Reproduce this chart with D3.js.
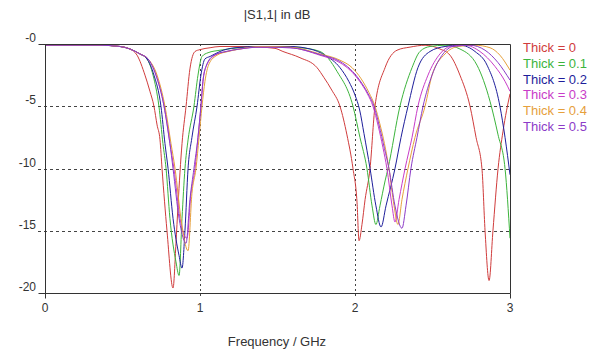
<!DOCTYPE html>
<html>
<head>
<meta charset="utf-8">
<script src="https://cdn.jsdelivr.net/npm/d3@7"></script>
<style>
  body { margin: 0; background: #fff; }
  svg text { font-family: "Liberation Sans", Arial, sans-serif; }
</style>
</head>
<body>
<svg id="chart" width="600" height="355"></svg>
<script>
// |S1,1| in dB vs frequency (GHz), one curve per thickness
const labels = ["Thick = 0", "Thick = 0.1", "Thick = 0.2", "Thick = 0.3", "Thick = 0.4", "Thick = 0.5"];
const colors = ["#d03c3c", "#3cb43c", "#1e1e9b", "#c83cc8", "#e6a03c", "#8c3cc8"];
const xTicks = [0, 1, 2, 3];
const yTicks = [0, -5, -10, -15, -20];

const thick0 = [[0,-0.1],[0.355,-0.1],[0.484,-0.2],[0.548,-0.4],[0.594,-0.9],[0.645,-2.5],[0.677,-3.8],[0.703,-5],[0.723,-6.5],[0.742,-7.7],[0.755,-10],[0.787,-15],[0.826,-19.6],[0.845,-16],[0.858,-13],[0.884,-8],[0.910,-5],[0.935,-2],[0.968,-0.6],[1.0,-0.45],[1.065,-0.3],[1.129,-0.2],[1.258,-0.2],[1.387,-0.25],[1.484,-0.35],[1.535,-0.6],[1.645,-1.1],[1.755,-1.9],[1.80,-2.7],[1.85,-3.7],[1.903,-5],[1.948,-7.3],[1.987,-10],[2.013,-12.7],[2.026,-15.8],[2.045,-14.5],[2.065,-12.5],[2.097,-10],[2.129,-5],[2.194,-1.9],[2.271,-0.5],[2.355,-0.25],[2.452,-0.1],[2.548,-0.4],[2.613,-0.9],[2.677,-2.5],[2.742,-5],[2.781,-7.5],[2.819,-10],[2.839,-15],[2.865,-19],[2.890,-15],[2.923,-10],[2.955,-7],[3.0,-4]];
const thick1 = [[0,-0.1],[0.355,-0.1],[0.484,-0.2],[0.548,-0.4],[0.613,-0.8],[0.658,-1.2],[0.697,-2.5],[0.735,-5],[0.761,-8],[0.781,-10],[0.806,-14],[0.845,-17.5],[0.865,-18.6],[0.884,-14],[0.903,-10],[0.923,-7.7],[0.961,-5],[0.987,-2.5],[1.013,-1],[1.052,-0.7],[1.129,-0.5],[1.258,-0.3],[1.452,-0.2],[1.645,-0.3],[1.774,-0.6],[1.884,-2.2],[1.987,-5],[2.032,-7.5],[2.077,-10],[2.110,-13],[2.135,-14.5],[2.161,-13],[2.194,-11],[2.213,-10],[2.290,-5],[2.368,-1.9],[2.419,-0.6],[2.484,-0.2],[2.581,-0.1],[2.677,-0.4],[2.787,-1.7],[2.871,-4.6],[2.923,-7.3],[2.968,-10],[3.0,-15.6]];
const thick2 = [[0,-0.1],[0.355,-0.1],[0.484,-0.2],[0.548,-0.4],[0.613,-0.8],[0.658,-1.2],[0.703,-2.5],[0.748,-5],[0.774,-8],[0.794,-10],[0.826,-14],[0.865,-17],[0.884,-18],[0.903,-15],[0.923,-10],[0.948,-7.5],[0.981,-5],[1.006,-2.5],[1.032,-1.2],[1.065,-1.0],[1.129,-0.6],[1.226,-0.3],[1.387,-0.2],[1.581,-0.2],[1.710,-0.4],[1.806,-0.9],[1.903,-1.9],[1.96,-3.0],[2.0,-4.1],[2.03,-5.3],[2.058,-7.2],[2.097,-10],[2.135,-13],[2.168,-14.7],[2.200,-13],[2.258,-10],[2.297,-7.5],[2.342,-5],[2.406,-1.9],[2.484,-0.6],[2.581,-0.2],[2.677,-0.1],[2.774,-0.6],[2.852,-1.7],[2.935,-5],[2.968,-7.5],[3.0,-10.5]];
const thick3 = [[0,-0.1],[0.355,-0.1],[0.484,-0.2],[0.548,-0.4],[0.613,-0.8],[0.665,-1.2],[0.716,-2.5],[0.768,-5],[0.806,-8],[0.832,-10],[0.871,-14],[0.916,-15.6],[0.942,-12],[0.968,-10],[0.987,-7.5],[1.006,-5],[1.019,-3],[1.039,-1.8],[1.097,-0.9],[1.174,-0.6],[1.258,-0.4],[1.387,-0.25],[1.581,-0.3],[1.774,-0.9],[1.903,-1.5],[1.968,-2.1],[2.03,-3.0],[2.08,-4.0],[2.116,-5],[2.15,-6.6],[2.18,-8.3],[2.206,-10],[2.239,-13],[2.258,-14.3],[2.284,-12.5],[2.323,-10],[2.368,-7.5],[2.406,-5],[2.471,-2.5],[2.548,-0.8],[2.613,-0.2],[2.710,-0.1],[2.806,-0.6],[2.903,-1.8],[2.968,-3],[3.0,-3.8]];
const thick4 = [[0,-0.1],[0.355,-0.1],[0.484,-0.2],[0.548,-0.4],[0.613,-0.8],[0.665,-1.2],[0.723,-2.5],[0.774,-5],[0.813,-8],[0.839,-10],[0.877,-14],[0.923,-16.6],[0.948,-12],[0.974,-10],[0.994,-7.5],[1.013,-5],[1.032,-3],[1.058,-1.6],[1.110,-0.9],[1.181,-0.6],[1.258,-0.4],[1.387,-0.2],[1.581,-0.25],[1.774,-0.8],[1.903,-1.3],[1.981,-1.9],[2.04,-2.8],[2.09,-3.9],[2.129,-5],[2.16,-6.4],[2.19,-8.0],[2.219,-10],[2.252,-13],[2.277,-14.5],[2.303,-12.5],[2.342,-10],[2.387,-7.5],[2.452,-5],[2.497,-2.5],[2.581,-0.8],[2.665,-0.2],[2.774,-0.1],[2.871,-0.3],[2.935,-0.9],[3.0,-2.1]];
const thick5 = [[0,-0.1],[0.355,-0.1],[0.484,-0.2],[0.548,-0.4],[0.613,-0.8],[0.665,-1.2],[0.716,-2.5],[0.768,-5],[0.806,-8],[0.826,-10],[0.865,-14],[0.910,-16.0],[0.935,-12.5],[0.961,-10],[0.987,-7.5],[1.006,-5],[1.019,-3],[1.039,-1.8],[1.090,-0.9],[1.168,-0.6],[1.258,-0.4],[1.387,-0.25],[1.581,-0.3],[1.774,-0.85],[1.903,-1.4],[1.968,-2.0],[2.03,-2.9],[2.085,-4.0],[2.123,-5],[2.155,-6.5],[2.19,-8.4],[2.219,-10],[2.258,-13],[2.303,-14.8],[2.329,-13],[2.361,-10],[2.400,-7.5],[2.439,-5],[2.497,-2.5],[2.568,-0.8],[2.632,-0.2],[2.742,-0.1],[2.839,-0.5],[2.923,-1.5],[3.0,-2.9]];

const series = [thick0, thick1, thick2, thick3, thick4, thick5];

const margin = {top: 44, right: 90, bottom: 62, left: 45};
const width = 600, height = 355;
const svg = d3.select("#chart");

const x = d3.scaleLinear().domain([0, 3]).range([margin.left, width - margin.right]);
const y = d3.scaleLinear().domain([-20, 0]).range([height - margin.bottom, margin.top]);

// grid
svg.append("g")
    .selectAll("line")
    .data([-5, -10, -15])
    .enter().append("line")
    .attr("x1", x(0) - 7).attr("x2", x(3))
    .attr("y1", d => Math.round(y(d)) + 0.5).attr("y2", d => Math.round(y(d)) + 0.5)
    .attr("stroke", "#444")
    .attr("stroke-dasharray", "3,3");

svg.append("g")
    .selectAll("line")
    .data([1, 2])
    .enter().append("line")
    .attr("x1", d => Math.round(x(d)) + 0.5).attr("x2", d => Math.round(x(d)) + 0.5)
    .attr("y1", y(0)).attr("y2", y(-20) + 5)
    .attr("stroke", "#444")
    .attr("stroke-dasharray", "2,3");

// curves
const line = d3.line()
    .x(d => x(d[0]))
    .y(d => y(d[1]))
    .curve(d3.curveMonotoneX);

svg.append("g")
    .attr("fill", "none")
    .attr("stroke-width", 1)
    .selectAll("path")
    .data(series)
    .enter().append("path")
    .attr("stroke", (d, i) => colors[i])
    .attr("d", line);

// frame
const x0 = Math.round(x(0)) + 0.5, x3 = Math.round(x(3)) + 0.5;
const yTop = Math.round(y(0)) + 0.5, yBot = Math.round(y(-20)) + 0.5;
svg.append("path")
    .attr("d", `M${x0 - 7},${yTop}H${x3}V${yBot}H${x0 - 7}M${x0},${yTop}V${yBot + 5}`)
    .attr("fill", "none")
    .attr("stroke", "#333");

// y ticks
svg.append("g")
    .selectAll("text")
    .data(yTicks)
    .enter().append("text")
    .attr("x", x(0) - 9)
    .attr("y", d => y(d) - 2)
    .attr("text-anchor", "end")
    .attr("font-size", 12)
    .attr("fill", "#333")
    .text(d => d === 0 ? "-0" : d);

// x ticks
svg.append("g")
    .selectAll("line")
    .data([3])
    .enter().append("line")
    .attr("x1", x3).attr("x2", x3)
    .attr("y1", yBot).attr("y2", yBot + 5)
    .attr("stroke", "#333");

svg.append("g")
    .selectAll("text")
    .data(xTicks)
    .enter().append("text")
    .attr("x", d => x(d))
    .attr("y", y(-20) + 19)
    .attr("text-anchor", "middle")
    .attr("font-size", 12)
    .attr("fill", "#333")
    .text(d => d);

// titles
svg.append("text")
    .attr("x", 277).attr("y", 19)
    .attr("text-anchor", "middle")
    .attr("font-size", 13)
    .attr("fill", "#333")
    .text("|S1,1| in dB");

svg.append("text")
    .attr("x", 277).attr("y", 346)
    .attr("text-anchor", "middle")
    .attr("font-size", 13)
    .attr("fill", "#333")
    .text("Frequency / GHz");

// legend
svg.append("g")
    .selectAll("text")
    .data(labels)
    .enter().append("text")
    .attr("x", 523)
    .attr("y", (d, i) => 52 + i * 15.8)
    .attr("font-size", 13)
    .attr("fill", (d, i) => colors[i])
    .text(d => d);
</script>
</body>
</html>
